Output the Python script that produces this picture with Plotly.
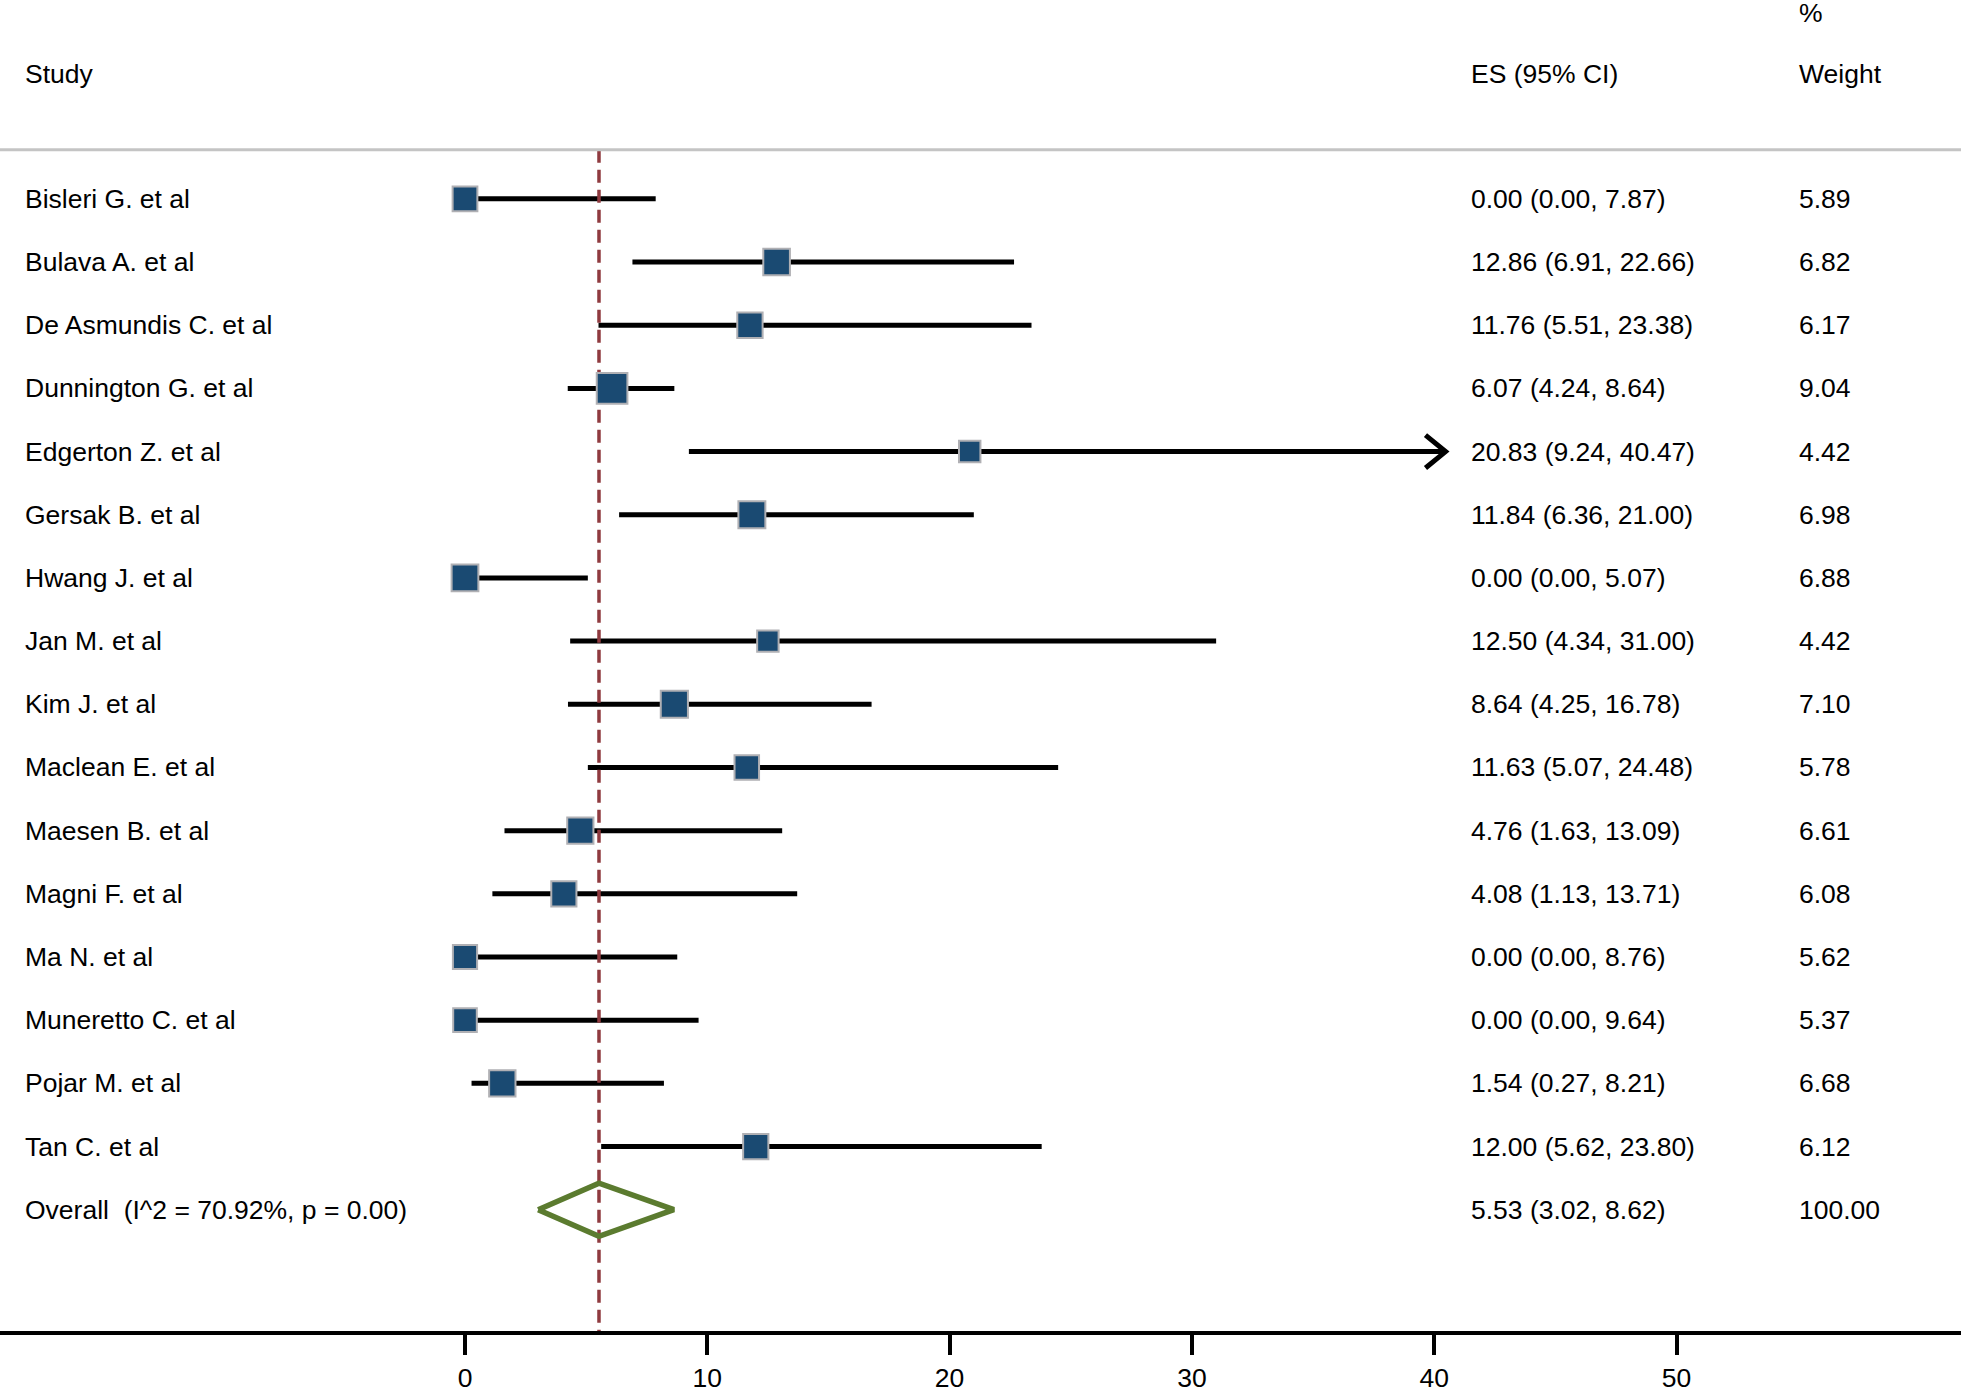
import plotly.graph_objects as go
import numpy as np

# ---- data ----
studies = ["Bisleri G. et al", "Bulava A. et al", "De Asmundis C. et al", "Dunnington G. et al",
           "Edgerton Z. et al", "Gersak B. et al", "Hwang J. et al", "Jan M. et al",
           "Kim J. et al", "Maclean E. et al", "Maesen B. et al", "Magni F. et al",
           "Ma N. et al", "Muneretto C. et al", "Pojar M. et al", "Tan C. et al"]
es = [0.00, 12.86, 11.76, 6.07, 20.83, 11.84, 0.00, 12.50, 8.64, 11.63, 4.76, 4.08, 0.00, 0.00, 1.54, 12.00]
lo = [0.00, 6.91, 5.51, 4.24, 9.24, 6.36, 0.00, 4.34, 4.25, 5.07, 1.63, 1.13, 0.00, 0.00, 0.27, 5.62]
hi = [7.87, 22.66, 23.38, 8.64, 40.47, 21.00, 5.07, 31.00, 16.78, 24.48, 13.09, 13.71, 8.76, 9.64, 8.21, 23.80]
weights = [5.89, 6.82, 6.17, 9.04, 4.42, 6.98, 6.88, 4.42, 7.10, 5.78, 6.61, 6.08, 5.62, 5.37, 6.68, 6.12]
arrow_rows = [4]  # CI truncated with arrow

overall_label = "Overall\u00a0\u00a0(I^2 = 70.92%, p = 0.00)"
overall_es, overall_lo, overall_hi = 5.53, 3.02, 8.62
overall_weight = "100.00"

x_ticks = [0, 10, 20, 30, 40, 50]
header_study = "Study"
header_es = "ES (95% CI)"
header_w1 = "%"
header_w2 = "Weight"

# ---- figure ----
W, H = 1961, 1393
FONT = "Liberation Sans, Arial, Helvetica, sans-serif"
FS = 26.5
rows = list(range(len(studies)))
overall_row = len(studies)

x0px, upx = 465.0, 24.23
plot_bottom = 1342
row0, rowh = 200.5, 63.7
sep_row = (151 - row0) / rowh
head_row = (75 - row0) / rowh
pct_row = (13 - row0) / rowh

fig = go.Figure()

# CI lines
for i in rows:
    fig.add_trace(go.Scatter(x=[lo[i], hi[i]], y=[i, i], mode="lines",
                             line=dict(color="black", width=5), hoverinfo="skip", showlegend=False))
# arrows
for i in arrow_rows:
    fig.add_trace(go.Scatter(x=[hi[i] - 0.83, hi[i], hi[i] - 0.83], y=[i - 0.26, i, i + 0.26],
                             mode="lines", line=dict(color="black", width=5),
                             hoverinfo="skip", showlegend=False))

# reference dashed line
fig.add_trace(go.Scatter(x=[overall_es, overall_es], y=[sep_row, 18.5], mode="lines",
                         line=dict(color="#8f3a3f", width=3.5, dash="13px,7px"),
                         hoverinfo="skip", showlegend=False))

# squares
fig.add_trace(go.Scatter(x=es, y=rows, mode="markers",
                         marker=dict(symbol="square", size=[10.2 * np.sqrt(w) for w in weights],
                                     color="#1a4a72", opacity=1,
                                     line=dict(color="#b0b0b4", width=2)),
                         hoverinfo="skip", showlegend=False))

# overall diamond
fig.add_trace(go.Scatter(x=[overall_lo, overall_es, overall_hi, overall_es, overall_lo],
                         y=[overall_row, overall_row - 0.42, overall_row, overall_row + 0.42, overall_row],
                         mode="lines", line=dict(color="#5b7b2f", width=5.5),
                         hoverinfo="skip", showlegend=False))

ann = []
def txt(xpx, y, s):
    ann.append(dict(x=xpx / W, xref="paper", y=y, yref="y", text=s, showarrow=False,
                    xanchor="left", yanchor="middle", font=dict(family=FONT, size=FS, color="black")))

X_STUDY, X_ES, X_W = 23, 1469, 1797
for i in rows:
    txt(X_STUDY, i, studies[i])
    txt(X_ES, i, f"{es[i]:.2f} ({lo[i]:.2f}, {hi[i]:.2f})")
    txt(X_W, i, f"{weights[i]:.2f}")
txt(X_STUDY, overall_row, overall_label)
txt(X_ES, overall_row, f"{overall_es:.2f} ({overall_lo:.2f}, {overall_hi:.2f})")
txt(X_W, overall_row, overall_weight)
# headers
txt(X_STUDY, head_row, header_study)
txt(X_ES, head_row, header_es)
txt(X_W, head_row, header_w2)
txt(X_W, pct_row, header_w1)

# gray separator line
shapes = [dict(type="line", xref="paper", x0=0, x1=1, yref="y", y0=sep_row, y1=sep_row,
               line=dict(color="#c4c4c4", width=3))]

fig.update_layout(
    width=W, height=H,
    margin=dict(l=0, r=0, t=0, b=H - plot_bottom, pad=0),
    paper_bgcolor="white", plot_bgcolor="white",
    annotations=ann, shapes=shapes, showlegend=False,
    xaxis=dict(range=[-x0px / upx, (W - x0px) / upx], tickvals=x_ticks,
               ticktext=[str(t) for t in x_ticks],
               showgrid=False, zeroline=False, showline=True, linecolor="black", linewidth=3.5,
               ticks="outside", ticklen=20, tickwidth=3.5, tickcolor="black",
               ticklabelstandoff=0,
               tickfont=dict(family=FONT, size=FS, color="black"), fixedrange=True),
    yaxis=dict(range=[(plot_bottom - row0) / rowh, -row0 / rowh], showgrid=False, zeroline=False,
               showticklabels=False, showline=False, ticks="", fixedrange=True),
)

fig.write_html("out.html", config={"displayModeBar": False},
               post_script="document.body.style.margin='0px';document.body.style.overflow='hidden';")
